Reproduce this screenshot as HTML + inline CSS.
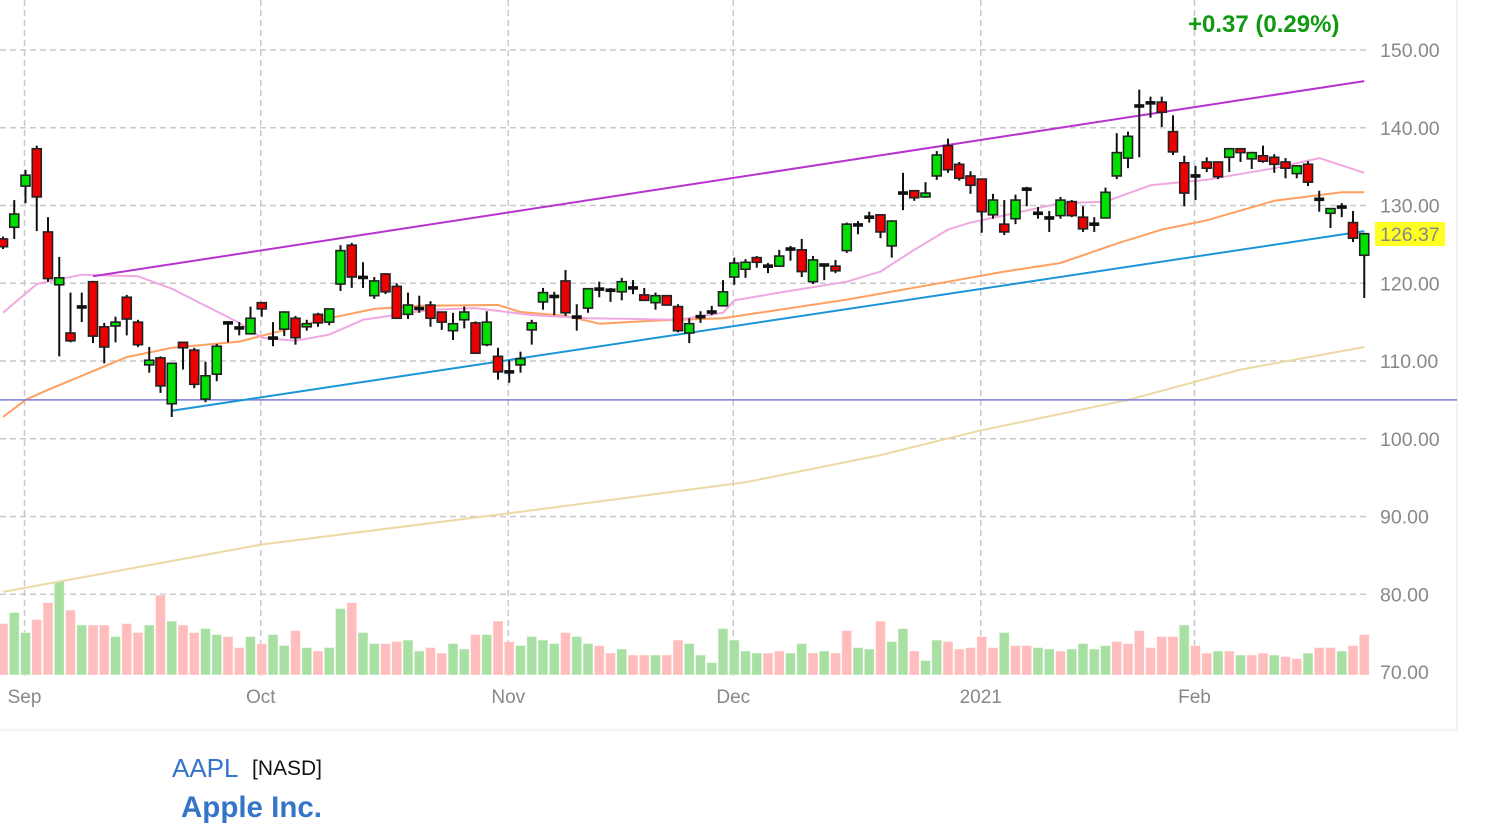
<!DOCTYPE html>
<html><head><meta charset="utf-8">
<style>
body{margin:0;background:#fff;width:1495px;height:830px;overflow:hidden;font-family:"Liberation Sans",sans-serif;}
svg{position:absolute;left:0;top:0;}
.lbl{position:absolute;font-family:"Liberation Sans",sans-serif;}
</style></head>
<body>
<svg id="chart" width="1495" height="830" xmlns="http://www.w3.org/2000/svg"></svg>
<div class="lbl" style="left:1188px;top:11px;font-size:24px;font-weight:bold;color:#119911;">+0.37 (0.29%)</div>
<div class="lbl" style="left:172px;top:753px;font-size:26px;color:#3575c8;">AAPL</div>
<div class="lbl" style="left:252px;top:757px;font-size:21px;color:#111;">[NASD]</div>
<div class="lbl" style="left:181px;top:791px;font-size:29.5px;font-weight:bold;color:#3575c8;">Apple Inc.</div>
<script>
const opens=[125.7,127.2,132.5,137.3,126.6,119.8,113.6,116.9,120.2,114.4,114.5,118.2,115.0,109.5,110.4,104.5,112.4,111.4,105.1,108.3,114.9,114.2,113.5,117.5,113.0,114.1,115.5,114.4,116.0,115.0,
119.9,124.9,120.8,118.4,121.2,119.6,116.0,116.7,117.2,116.3,113.9,115.3,114.9,112.1,110.6,108.6,109.5,114.0,117.6,118.4,120.3,115.7,116.8,119.2,119.1,118.9,119.4,118.5,117.5,118.4,
117.0,113.6,115.7,116.3,117.1,120.8,121.8,123.3,122.2,122.2,124.4,124.3,120.2,122.3,122.2,124.2,127.5,128.5,128.8,124.8,131.6,131.9,131.1,133.8,137.7,135.3,133.8,133.4,128.8,127.6,
128.3,132.1,129.0,128.5,128.7,130.5,128.5,127.6,128.4,133.8,136.1,142.8,143.2,143.3,139.5,135.5,133.8,135.6,135.6,136.2,137.3,136.0,136.4,136.2,135.6,134.1,135.3,130.8,129.0,129.8,127.8,123.6];
const closes=[124.7,128.9,133.9,131.1,120.6,120.7,112.6,117.0,113.2,111.8,115.0,115.4,112.1,110.1,106.8,109.7,111.7,107.0,108.1,111.9,114.9,114.3,115.5,116.7,112.9,116.3,113.0,114.8,114.9,116.7,
124.2,120.8,120.7,120.3,118.9,115.5,117.2,116.8,115.5,115.0,114.8,116.3,111.0,115.0,108.6,108.6,110.3,114.9,118.8,118.2,116.2,115.6,119.3,119.3,119.1,120.2,119.4,117.8,118.4,117.2,
113.9,114.8,115.7,116.3,118.9,122.6,122.7,122.7,122.2,123.5,124.4,121.5,123.0,122.4,121.6,127.6,127.5,128.5,126.6,128.0,131.6,131.0,131.6,136.5,134.6,133.5,132.6,129.2,130.7,126.6,
130.7,132.1,129.0,128.3,130.7,128.7,127.0,127.6,131.7,136.8,138.9,142.8,143.2,142.0,136.9,131.6,133.8,134.8,133.7,137.3,136.8,136.8,135.7,135.3,134.8,135.1,133.0,130.8,129.6,129.8,125.8,126.37];
const highs=[126.0,130.7,134.6,137.7,128.5,123.4,118.8,118.8,120.3,114.9,115.7,118.5,115.3,111.8,110.6,109.7,112.5,111.7,109.9,112.2,115.0,115.0,117.0,117.6,115.0,116.4,115.8,115.3,116.2,116.7,
124.9,125.2,122.7,120.8,121.3,120.0,118.8,118.4,117.7,116.3,116.2,117.0,115.1,116.4,111.7,110.1,111.2,115.3,119.4,118.9,121.7,117.3,119.3,120.2,119.4,120.7,120.4,119.4,118.8,118.5,
117.3,115.5,116.4,117.1,120.4,123.3,123.1,123.5,122.6,124.3,124.8,125.7,123.5,122.4,123.0,127.8,128.0,129.2,128.9,128.1,134.2,132.0,133.0,137.0,138.6,135.6,134.4,133.4,131.5,130.7,
131.4,132.4,129.8,129.3,131.1,130.7,129.9,128.5,132.3,139.3,139.5,144.9,144.0,144.0,141.6,136.4,135.1,136.2,135.6,137.4,137.4,136.9,137.7,136.6,136.1,135.2,135.7,131.9,129.6,130.3,129.3,126.5];
const lows=[124.4,125.7,130.3,126.7,120.2,110.6,112.4,115.0,112.3,109.7,112.4,113.3,111.8,108.5,105.9,102.8,108.9,106.5,104.7,107.4,112.4,113.3,113.4,115.7,111.9,113.2,112.1,113.9,114.4,114.6,
119.0,119.4,119.4,118.0,118.6,115.4,115.4,116.2,114.4,114.0,112.7,114.2,110.9,111.9,107.6,107.2,108.5,112.1,116.6,115.9,115.8,113.9,116.2,118.2,117.6,117.8,118.6,117.8,116.6,117.1,
113.7,112.3,114.9,115.9,117.0,119.8,120.7,122.0,121.3,122.1,122.9,120.8,119.9,120.4,121.3,123.9,126.3,127.8,125.8,123.3,129.4,130.6,131.0,133.3,134.2,133.2,131.5,126.5,128.3,126.2,
127.6,129.9,128.3,126.6,128.3,128.5,126.6,126.6,128.4,133.4,134.8,136.2,141.3,140.1,136.5,129.9,130.7,134.3,133.4,134.3,135.6,134.7,135.5,134.2,133.5,133.5,132.5,129.2,127.1,128.5,125.3,118.1];
const volumes=[103,125,85,111,145,187,130,100,100,100,77,103,85,100,160,108,100,85,93,81,77,55,77,63,81,59,89,55,48,55,
133,145,85,63,63,67,70,48,55,44,63,52,81,81,108,67,59,77,70,63,85,77,63,59,44,52,40,40,40,40,
70,63,40,25,93,70,48,44,44,48,44,63,44,48,44,89,55,52,108,67,93,48,29,70,67,52,55,77,55,85,
59,59,55,52,48,52,63,52,59,67,63,89,55,77,77,100,59,44,48,48,40,40,44,40,37,33,44,55,55,48,59,81];
const volUp="dggddgdgddgddgdgddggddgdggdgdggdggddggddggdgddggggdggddgddgddgggggggddggdgddggdggdggdddddgddggdggggddddddgddgdgddgddgddg";
const monthLabels=["Sep","Oct","Nov","Dec","2021","Feb"];
const monthIdx=[2,23,45,65,87,106];
const yTicks=[150,140,130,120,110,100,90,80,70];
const ma20Idx=[0,3,7,12,15,21,23,26,29,32,38,42,47,52,60,64,65,69,75,78,81,84,86,94,98,102,107,113,117,121];
const ma20Val=[116.2,119.9,121.1,120.9,119.3,114.9,113.0,112.6,113.4,115.3,116.6,116.8,115.9,115.5,115.3,116.2,117.8,118.8,120.2,121.5,124.3,126.9,127.8,130.3,130.5,132.6,133.3,134.8,136.1,134.2];
const ma50Idx=[0,2,4,11,15,21,24,29,33,37,44,46,50,53,58,64,75,84,89,94,99,103,107,113,119,121];
const ma50Val=[102.8,105.0,106.3,110.5,111.7,112.5,113.6,115.5,116.7,117.1,117.2,116.3,115.8,114.8,115.2,115.5,117.9,120.2,121.5,122.6,125.1,126.9,128.1,130.6,131.7,131.7];
const ma200Idx=[0,23,46,66,78,87,100,110,121];
const ma200Val=[80.3,86.4,90.6,94.4,97.9,101.1,105.0,108.9,111.8];
const upperTrend=[[8,120.9],[121,146.0]];
const lowerTrend=[[15,103.6],[121,126.7]];
const supportLevel=105.0;
const lastPrice="126.37";

const NS="http://www.w3.org/2000/svg";
const svg=document.getElementById('chart');
const xS=i=>3+i*11.25;
const yS=v=>50+(150-v)*7.775;
const yV=v=>675-v*0.5;
function mk(tag,attrs,parent){const e=document.createElementNS(NS,tag);for(const k in attrs)e.setAttribute(k,attrs[k]);(parent||svg).appendChild(e);return e;}

let fr=mk('line',{x1:1457,y1:0,x2:1457,y2:730,stroke:'#eee','stroke-width':1.5});


let fb=mk('line',{x1:0,y1:730,x2:1457,y2:730,stroke:'#f0f0f0','stroke-width':1.5});



yTicks.forEach(t=>{
  if(t>70){const g=mk('line',{x1:0,y1:yS(t),x2:1366,y2:yS(t),stroke:'#c8c8c8','stroke-width':1.5,'stroke-dasharray':'6,4'});
  
  }
  const tx=mk('text',{x:1380,y:yS(t)+7,'font-size':19.5,fill:'#888','font-family':'Liberation Sans, sans-serif'});
  tx.textContent=t.toFixed(2);
  
  
});
monthLabels.forEach((m,k)=>{
  const x=xS(monthIdx[k])-1;
  const g=mk('line',{x1:x,y1:0,x2:x,y2:680,stroke:'#c8c8c8','stroke-width':1.5,'stroke-dasharray':'6,4'});
  
  
  const tx=mk('text',{x:x,y:703,'font-size':19,fill:'#888','text-anchor':'middle','font-family':'Liberation Sans, sans-serif'});
  tx.textContent=m;
  
  
});
volumes.forEach((v,i)=>{
  const r=mk('rect',{x:xS(i)-5,y:yV(v),width:10,height:675-yV(v),fill:volUp[i]==='g'?'#a8e0a4':'#ffbdbd',stroke:'#fff','stroke-width':0.8,'stroke-opacity':0.6});
  
  
});
function maLine(idx,val,color,name,w){
  const d=idx.map((i,k)=>(k?'L':'M')+xS(i).toFixed(1)+','+yS(val[k]).toFixed(1)).join(' ');
  const p=mk('path',{d:d,fill:'none',stroke:color,'stroke-width':w,'stroke-linejoin':'round'});
  
  
}
maLine(ma200Idx,ma200Val,'#ecd9a4','ma-200-line',2);
maLine(ma50Idx,ma50Val,'#ffa060','ma-50-line',2);
maLine(ma20Idx,ma20Val,'#f0a8e0','ma-20-line',2);
const sl=mk('line',{x1:0,y1:yS(supportLevel),x2:1457,y2:yS(supportLevel),stroke:'#7c7cd8','stroke-width':1.5});


const ut=mk('line',{x1:xS(upperTrend[0][0]),y1:yS(upperTrend[0][1]),x2:xS(upperTrend[1][0]),y2:yS(upperTrend[1][1]),stroke:'#b733cf','stroke-width':2});


const lt=mk('line',{x1:xS(lowerTrend[0][0]),y1:yS(lowerTrend[0][1]),x2:xS(lowerTrend[1][0]),y2:yS(lowerTrend[1][1]),stroke:'#1a96d8','stroke-width':2});


opens.forEach((o,i)=>{
  const c=closes[i],x=xS(i);
  const g=mk('g',{});
  
  
  mk('line',{x1:x,y1:yS(highs[i]),x2:x,y2:yS(lows[i]),stroke:'#111','stroke-width':2},g);
  const top=yS(Math.max(o,c)),bot=yS(Math.min(o,c));
  if(bot-top<2.5){
    mk('rect',{x:x-5,y:(top+bot)/2-1.8,width:10,height:3.6,fill:'#111'},g);
  }else{
    mk('rect',{x:x-4.5,y:top,width:9,height:bot-top,fill:c>o?'#00e000':'#ee0000',stroke:'#222','stroke-width':1.6},g);
  }
});
const tag=mk('rect',{x:1375,y:222,width:70,height:24,fill:'#ffff22'});


const tt=mk('text',{x:1380,y:241,'font-size':19.5,fill:'#888','font-family':'Liberation Sans, sans-serif'});
tt.textContent=lastPrice;


</script>
</body></html>
